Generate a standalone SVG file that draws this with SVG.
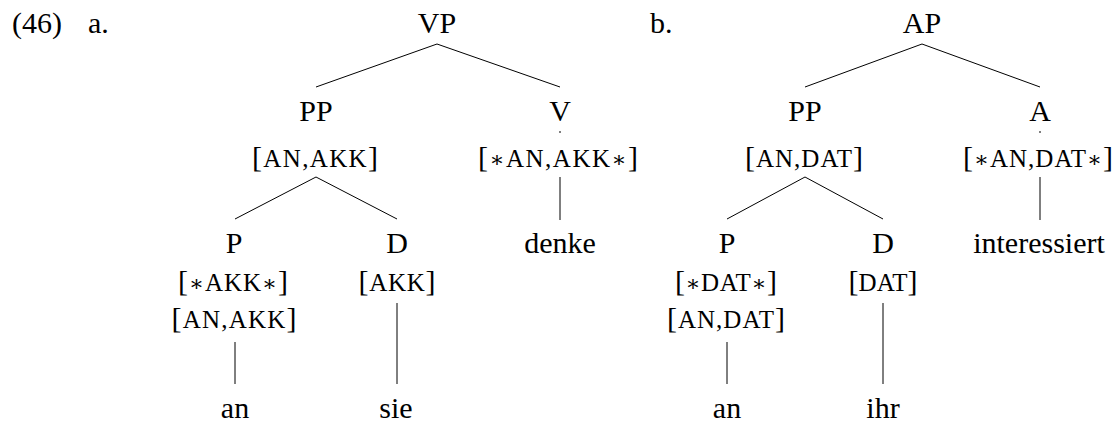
<svg xmlns="http://www.w3.org/2000/svg" width="1118" height="425" viewBox="0 0 1118 425" font-family="Liberation Serif, DejaVu Serif, serif">
<style>
text{font-family:'Liberation Serif','DejaVu Serif',serif;fill:#000;font-size:30px}
.c{text-anchor:middle}
.sc{font-size:25px}
.ast{font-size:22px}
line{stroke:#000;stroke-width:1;fill:none}
</style>
<rect width="1118" height="425" fill="#fff"/>
<g id="label-46"><text x="12" y="33">(46)</text></g>
<g id="label-a"><text x="88" y="33">a.</text></g>
<g id="label-b"><text x="650" y="33">b.</text></g>
<g id="connectors">
<line x1="437" y1="44" x2="316" y2="87"/>
<line x1="437" y1="44" x2="560" y2="87"/>
<line x1="316" y1="177" x2="235" y2="219"/>
<line x1="316" y1="177" x2="397" y2="219"/>
<line x1="560" y1="177" x2="560" y2="220"/>
<line x1="560" y1="131" x2="560" y2="133" stroke-width="0.6"/>
<line x1="235" y1="342" x2="235" y2="384"/>
<line x1="397" y1="303" x2="397" y2="384"/>
<line x1="922" y1="44" x2="805" y2="87"/>
<line x1="922" y1="44" x2="1040" y2="87"/>
<line x1="805" y1="177" x2="727" y2="219"/>
<line x1="805" y1="177" x2="883" y2="219"/>
<line x1="1040" y1="177" x2="1040" y2="220"/>
<line x1="1040" y1="131" x2="1040" y2="133" stroke-width="0.6"/>
<line x1="727" y1="342" x2="727" y2="384"/>
<line x1="883" y1="303" x2="883" y2="384"/>
</g>
<g id="node-VP"><text class="c" x="437" y="33">VP</text></g>
<g id="node-PP-a"><text class="c" x="316" y="121">PP</text><text class="c" x="315" y="167" textLength="126" lengthAdjust="spacing">[<tspan class="sc">AN,AKK</tspan>]</text></g>
<g id="node-V"><text class="c" x="560" y="121">V</text><text class="c" x="558" y="167" textLength="160" lengthAdjust="spacing">[<tspan class="ast">∗</tspan><tspan class="sc">AN,AKK</tspan><tspan class="ast">∗</tspan>]</text></g>
<g id="node-denke"><text class="c" x="560" y="253">denke</text></g>
<g id="node-P-a"><text class="c" x="234" y="253">P</text><text class="c" x="233" y="291" textLength="110" lengthAdjust="spacing">[<tspan class="ast">∗</tspan><tspan class="sc">AKK</tspan><tspan class="ast">∗</tspan>]</text><text class="c" x="234" y="328" textLength="125" lengthAdjust="spacing">[<tspan class="sc">AN,AKK</tspan>]</text></g>
<g id="node-D-a"><text class="c" x="397" y="253">D</text><text class="c" x="397" y="291" textLength="77" lengthAdjust="spacing">[<tspan class="sc">AKK</tspan>]</text></g>
<g id="node-an-a"><text class="c" x="235" y="418">an</text></g>
<g id="node-sie"><text class="c" x="396" y="418">sie</text></g>
<g id="node-AP"><text class="c" x="922" y="33">AP</text></g>
<g id="node-PP-b"><text class="c" x="805" y="121">PP</text><text class="c" x="804" y="167" textLength="118" lengthAdjust="spacing">[<tspan class="sc">AN,DAT</tspan>]</text></g>
<g id="node-A"><text class="c" x="1040" y="121">A</text><text class="c" x="1038" y="167" textLength="150" lengthAdjust="spacing">[<tspan class="ast">∗</tspan><tspan class="sc">AN,DAT</tspan><tspan class="ast">∗</tspan>]</text></g>
<g id="node-interessiert"><text class="c" x="1039" y="253">interessiert</text></g>
<g id="node-P-b"><text class="c" x="727" y="253">P</text><text class="c" x="726" y="291" textLength="102" lengthAdjust="spacing">[<tspan class="ast">∗</tspan><tspan class="sc">DAT</tspan><tspan class="ast">∗</tspan>]</text><text class="c" x="726" y="328" textLength="118" lengthAdjust="spacing">[<tspan class="sc">AN,DAT</tspan>]</text></g>
<g id="node-D-b"><text class="c" x="883" y="253">D</text><text class="c" x="883" y="291" textLength="69" lengthAdjust="spacing">[<tspan class="sc">DAT</tspan>]</text></g>
<g id="node-an-b"><text class="c" x="727" y="418">an</text></g>
<g id="node-ihr"><text class="c" x="883" y="418">ihr</text></g>
</svg>
